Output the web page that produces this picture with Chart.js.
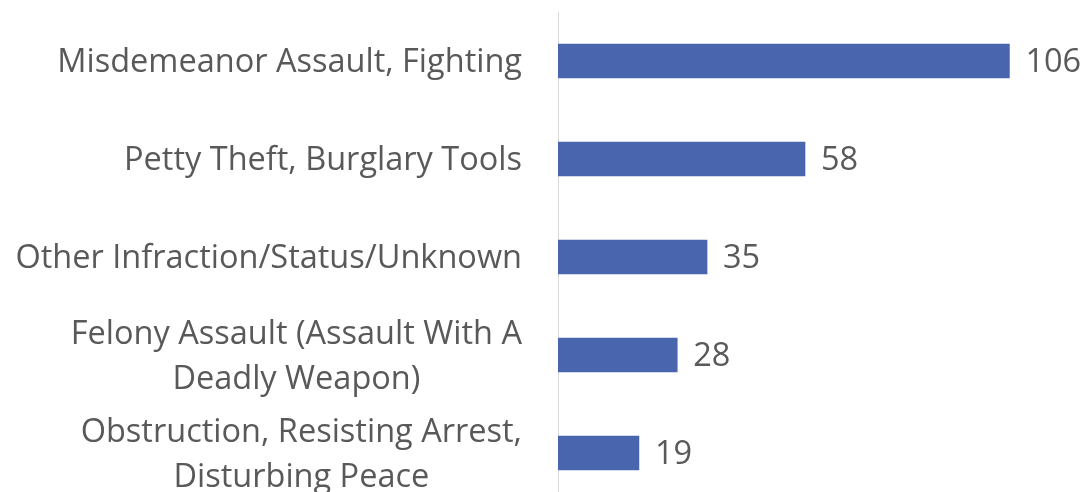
<!DOCTYPE html>
<html>
<head>
<meta charset="utf-8">
<script src="https://cdn.jsdelivr.net/npm/chart.js@4/dist/chart.umd.min.js"></script>
<style>
  html, body { margin: 0; padding: 0; background: #fff; overflow: hidden; }
  #wrap { width: 1084px; height: 502px; }
</style>
</head>
<body>
<div id="wrap"><canvas id="c" width="1084" height="502"></canvas></div>
<script>
const categories = [
  ["Misdemeanor Assault, Fighting"],
  ["Petty Theft, Burglary Tools"],
  ["Other Infraction/Status/Unknown"],
  ["Felony Assault (Assault With A", "Deadly Weapon)"],
  ["Obstruction, Resisting Arrest,", "Disturbing Peace"]
];
const counts = [106, 58, 35, 28, 19];
const axisMax = 120;

const FONT = '32.5px "Open Sans", "Noto Sans", sans-serif';
const TEXT = '#595959';

const labelPlugin = {
  id: 'labels',
  afterDatasetsDraw(chart) {
    const ctx = chart.ctx;
    const yScale = chart.scales.y;
    const area = chart.chartArea;
    ctx.save();
    ctx.font = FONT;
    ctx.fillStyle = TEXT;
    ctx.textBaseline = 'middle';
    const rightEdge = area.left - 36;
    const lineH = 45;
    categories.forEach((lines, i) => {
      const y = yScale.getPixelForValue(i) + 2;
      const maxW = Math.max(...lines.map(l => ctx.measureText(l).width));
      const cx = rightEdge - maxW / 2;
      ctx.textAlign = 'center';
      const y0 = y - (lines.length - 1) * lineH / 2;
      lines.forEach((l, k) => ctx.fillText(l, cx, y0 + k * lineH));
    });
    const meta = chart.getDatasetMeta(0);
    ctx.textAlign = 'left';
    meta.data.forEach((bar, i) => {
      ctx.fillText(String(counts[i]), bar.x + 16, bar.y + 2);
    });
    ctx.restore();
  }
};

new Chart(document.getElementById('c'), {
  type: 'bar',
  data: {
    labels: categories,
    datasets: [{
      data: counts,
      backgroundColor: '#4865AE',
      borderWidth: 0,
      barThickness: 34
    }]
  },
  options: {
    indexAxis: 'y',
    responsive: false,
    animation: false,
    events: [],
    layout: { padding: { top: 12, right: 15, bottom: 0, left: 0 } },
    plugins: { legend: { display: false }, tooltip: { enabled: false } },
    scales: {
      x: { display: false, min: 0, max: axisMax },
      y: {
        afterFit(scale) { scale.width = 558; },
        ticks: { display: false },
        grid: { display: false, drawTicks: false },
        border: { display: true, color: '#D9D9D9', width: 1 }
      }
    }
  },
  plugins: [labelPlugin]
});
</script>
</body>
</html>
